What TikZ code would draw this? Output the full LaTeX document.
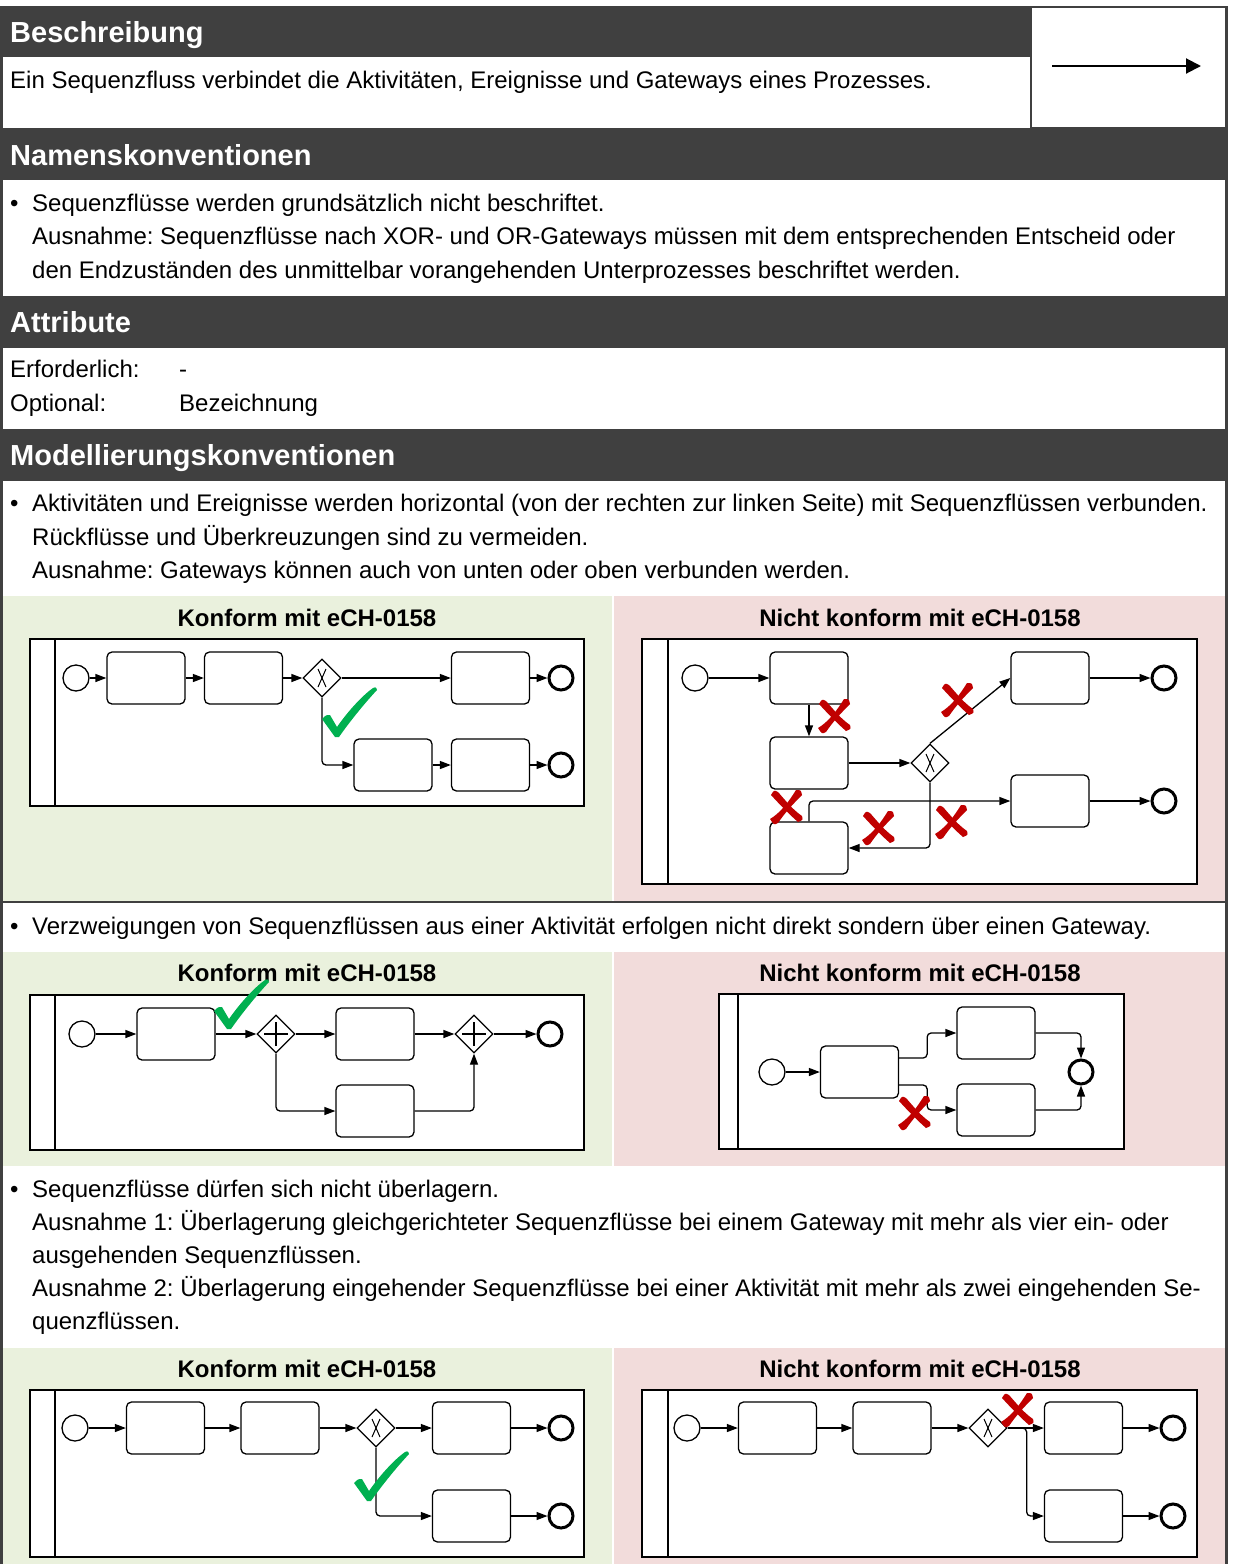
\documentclass[tikz,border=0pt]{standalone}
\usepackage{fontspec}
\setmainfont{Liberation Sans}
\usepackage{tikz}
\usetikzlibrary{arrows.meta,shapes.geometric}

\definecolor{barcol}{RGB}{64,64,64}
\definecolor{okfill}{HTML}{EAF1DD}
\definecolor{nofill}{HTML}{F2DCDB}
\definecolor{okgreen}{HTML}{00B050}
\definecolor{nored}{HTML}{C00000}
\frenchspacing

\begin{document}
\begin{tikzpicture}[x=1pt, y=-1pt,
    hdr/.style={anchor=base west, inner sep=0pt, text=white, font=\bfseries\fontsize{29}{34}\selectfont},
    txt/.style={anchor=base west, inner sep=0pt, font=\fontsize{24}{30}\selectfont},
    ttl/.style={anchor=base, inner sep=0pt, font=\bfseries\fontsize{24}{30}\selectfont},
    task/.style={draw, fill=white, rounded corners=5pt, minimum width=78pt, minimum height=52pt, inner sep=0pt, line width=1.3pt},
    startev/.style={draw, fill=white, circle, minimum size=26pt, inner sep=0pt, line width=1.3pt},
    endev/.style={draw, fill=white, circle, minimum size=24pt, inner sep=0pt, line width=3pt},
    gw/.style={draw, fill=white, diamond, minimum width=38pt, minimum height=38pt, inner sep=0pt, line width=1.3pt},
    xorgw/.style={gw, path picture={
        \draw[line width=1pt] ([shift={(-4pt,-9pt)}]path picture bounding box.center) -- ([shift={(4pt,9pt)}]path picture bounding box.center);
        \draw[line width=1pt] ([shift={(4pt,-9pt)}]path picture bounding box.center) -- ([shift={(-4pt,9pt)}]path picture bounding box.center);}},
    andgw/.style={gw, path picture={
        \draw[line width=2pt] ([xshift=-12pt]path picture bounding box.center) -- ([xshift=12pt]path picture bounding box.center);
        \draw[line width=2pt] ([yshift=-12pt]path picture bounding box.center) -- ([yshift=12pt]path picture bounding box.center);}},
    flow/.style={-{Triangle[length=11pt,width=8pt]}, line width=1.3pt, rounded corners=4pt},
    pool/.style={draw, fill=white, line width=1.5pt},
    okmark/.pic={\fill[okgreen] (-14,-17) .. controls (-10,-21) .. (-6,-21) -- (1,-9)
        .. controls (12,-25) and (27,-41) .. (37,-48) .. controls (40,-49) .. (41,-46)
        .. controls (27,-31) and (12,-12) .. (3,1) -- (-1,1) -- cycle;},
    nomark/.pic={\fill[nored] (-15,-12) .. controls (-12,-17) .. (-8,-15) .. controls (0,-6) and (6,2) .. (16,9)
        .. controls (17,13) .. (12,15) .. controls (4,8) and (-4,0) .. cycle;
        \fill[nored] (10,-17) .. controls (15,-17) .. (16,-12) .. controls (6,-2) and (-2,7) .. (-8,16)
        .. controls (-12,18) .. (-16,12) .. controls (-6,6) and (2,-4) .. cycle;}]
  \useasboundingbox (0,0) rectangle (1232,1564);
  \fill[white] (0,0) rectangle (1232,1564);

  \fill[barcol] (0,6) rectangle (1030,57);
  \node[hdr] (hBeschr) at (10,42) {Beschreibung};
  \node[txt] (tBeschr) at (10,88.5) {Ein Sequenzfluss verbindet die Aktivitäten, Ereignisse und Gateways eines Prozesses.};
  \draw[barcol, line width=2pt] (1030.5,7) rectangle (1226.5,128);
  \coordinate (symL) at (1052,66);
  \coordinate (symR) at (1201,66);
  \draw[line width=2pt, -{Triangle[length=15pt,width=15pt]}] (symL) -- (symR);

  \fill[barcol] (0,128) rectangle (1228,180);
  \node[hdr] (hNamen) at (10,165) {Namenskonventionen};
  \node[txt] (bulN) at (10,211.5) {\textbullet};
  \node[txt] (tN1) at (32,211.5) {Sequenzflüsse werden grundsätzlich nicht beschriftet.};
  \node[txt] (tN2) at (32,244.5) {Ausnahme: Sequenzflüsse nach XOR- und OR-Gateways müssen mit dem entsprechenden Entscheid oder};
  \node[txt] (tN3) at (32,278.5) {den Endzuständen des unmittelbar vorangehenden Unterprozesses beschriftet werden.};

  \fill[barcol] (0,296) rectangle (1228,348);
  \node[hdr] (hAttr) at (10,332) {Attribute};
  \node[txt] (tA1) at (10,377.5) {Erforderlich:};
  \node[txt] (vA1) at (179,377.5) {-};
  \node[txt] (tA2) at (10,411.5) {Optional:};
  \node[txt] (vA2) at (179,411.5) {Bezeichnung};

  \fill[barcol] (0,429) rectangle (1228,481);
  \node[hdr] (hModell) at (10,465) {Modellierungskonventionen};
  \node[txt] (bulM) at (10,511.5) {\textbullet};
  \node[txt] (tM1) at (32,511.5) {Aktivitäten und Ereignisse werden horizontal (von der rechten zur linken Seite) mit Sequenzflüssen verbunden.};
  \node[txt] (tM2) at (32,545.5) {Rückflüsse und Überkreuzungen sind zu vermeiden.};
  \node[txt] (tM3) at (32,578.5) {Ausnahme: Gateways können auch von unten oder oben verbunden werden.};

  \fill[okfill] (2,596) rectangle (611.5,900.5);
  \fill[nofill] (613.5,596) rectangle (1225,900.5);
  \node[ttl] (okT1) at (307,626.5) {Konform mit eCH-0158};
  \node[ttl] (noT1) at (920,626.5) {Nicht konform mit eCH-0158};
  \fill[barcol] (0,900.5) rectangle (1228,902.5);

  \draw[pool] (30,639) rectangle (584,806); \draw[line width=1.5pt] (55,639) -- (55,806);
  \node[startev] (aS) at (76,678) {};
  \node[task] (aT1) at (146,678) {};
  \node[task] (aT2) at (243.5,678) {};
  \node[xorgw] (aG) at (322,678) {};
  \node[task] (aT3) at (490.5,678) {};
  \node[endev] (aE1) at (561,678) {};
  \node[task] (aT4) at (393,765) {};
  \node[task] (aT5) at (490.5,765) {};
  \node[endev] (aE2) at (561,765) {};
  \draw[flow] (aS) -- (aT1); \draw[flow] (aT1) -- (aT2); \draw[flow] (aT2) -- (aG);
  \draw[flow] (aG) -- (aT3); \draw[flow] (aT3) -- (aE1); \draw[flow] (aG.south) |- (aT4);
  \draw[flow] (aT4) -- (aT5); \draw[flow] (aT5) -- (aE2);
  \pic at (336,736) {okmark};

  \draw[pool] (642,639) rectangle (1197,884); \draw[line width=1.5pt] (668,639) -- (668,884);
  \node[startev] (bS) at (695,678) {};
  \node[task] (bT1) at (809,678) {};
  \node[task] (bT2) at (809,763) {};
  \node[xorgw] (bG) at (930,763) {};
  \node[task] (bT3) at (1050,678) {};
  \node[endev] (bE1) at (1164,678) {};
  \node[task] (bT4) at (1050,801) {};
  \node[endev] (bE2) at (1164,801) {};
  \node[task] (bT5) at (809,848) {};
  \draw[flow] (bS) -- (bT1); \draw[flow] (bT1) -- (bT2); \draw[flow] (bT2) -- (bG);
  \draw[flow] (bG.north) -- (bT3.west); \draw[flow] (bT3) -- (bE1);
  \draw[flow] (bG.south) |- (bT5); \draw[flow] (bT5.north) |- (bT4); \draw[flow] (bT4) -- (bE2);
  \pic at (834,716) {nomark}; \pic at (957,700) {nomark}; \pic at (786,807) {nomark};
  \pic at (878,828) {nomark}; \pic at (951,822) {nomark};

  \node[txt] (bulV) at (10,934.5) {\textbullet};
  \node[txt] (tV1) at (32,934.5) {Verzweigungen von Sequenzflüssen aus einer Aktivität erfolgen nicht direkt sondern über einen Gateway.};

  \fill[okfill] (2,952) rectangle (611.5,1166);
  \fill[nofill] (613.5,952) rectangle (1225,1166);
  \node[ttl] (okT2) at (307,981.5) {Konform mit eCH-0158};
  \node[ttl] (noT2) at (920,981.5) {Nicht konform mit eCH-0158};

  \draw[pool] (30,995) rectangle (584,1150); \draw[line width=1.5pt] (55,995) -- (55,1150);
  \node[startev] (cS) at (82,1034) {};
  \node[task] (cT1) at (176,1034) {};
  \node[andgw] (cG1) at (276,1034) {};
  \node[task] (cT2) at (375,1034) {};
  \node[andgw] (cG2) at (474,1034) {};
  \node[endev] (cE) at (550,1034) {};
  \node[task] (cT3) at (375,1111) {};
  \draw[flow] (cS) -- (cT1); \draw[flow] (cT1) -- (cG1); \draw[flow] (cG1) -- (cT2);
  \draw[flow] (cT2) -- (cG2); \draw[flow] (cG2) -- (cE);
  \draw[flow] (cG1.south) |- (cT3); \draw[flow] (cT3) -| (cG2.south);
  \pic at (228,1028) {okmark};

  \draw[pool] (719,994) rectangle (1124,1149); \draw[line width=1.5pt] (738,994) -- (738,1149);
  \node[startev] (dS) at (772,1072) {};
  \node[task] (dT1) at (859.5,1072) {};
  \node[task] (dT2) at (996,1033) {};
  \node[task] (dT3) at (996,1110) {};
  \node[endev] (dE) at (1081,1072) {};
  \draw[flow] (dS) -- (dT1);
  \draw[flow] ([yshift=14pt]dT1.east) -- ++(28,0) |- (dT2);
  \draw[flow] ([yshift=-13pt]dT1.east) -- ++(28,0) |- (dT3);
  \draw[flow] (dT2) -| (dE); \draw[flow] (dT3) -| (dE);
  \pic at (914,1113) {nomark};

  \node[txt] (bulU) at (10,1197.5) {\textbullet};
  \node[txt] (tU1) at (32,1197.5) {Sequenzflüsse dürfen sich nicht überlagern.};
  \node[txt] (tU2) at (32,1230.5) {Ausnahme 1: Überlagerung gleichgerichteter Sequenzflüsse bei einem Gateway mit mehr als vier ein- oder};
  \node[txt] (tU3) at (32,1263.5) {ausgehenden Sequenzflüssen.};
  \node[txt] (tU4) at (32,1296.5) {Ausnahme 2: Überlagerung eingehender Sequenzflüsse bei einer Aktivität mit mehr als zwei eingehenden Se-};
  \node[txt] (tU5) at (32,1329.5) {quenzflüssen.};

  \fill[okfill] (2,1348) rectangle (611.5,1564);
  \fill[nofill] (613.5,1348) rectangle (1225,1564);
  \node[ttl] (okT3) at (307,1377.5) {Konform mit eCH-0158};
  \node[ttl] (noT3) at (920,1377.5) {Nicht konform mit eCH-0158};

  \draw[pool] (30,1390) rectangle (584,1557); \draw[line width=1.5pt] (55,1390) -- (55,1557);
  \node[startev] (eS) at (75,1428) {};
  \node[task] (eT1) at (165.5,1428) {};
  \node[task] (eT2) at (280,1428) {};
  \node[xorgw] (eG) at (376,1428) {};
  \node[task] (eT3) at (471.5,1428) {};
  \node[endev] (eE1) at (561,1428) {};
  \node[task] (eT4) at (471.5,1516) {};
  \node[endev] (eE2) at (561,1516) {};
  \draw[flow] (eS) -- (eT1); \draw[flow] (eT1) -- (eT2); \draw[flow] (eT2) -- (eG);
  \draw[flow] (eG) -- (eT3); \draw[flow] (eT3) -- (eE1); \draw[flow] (eG.south) |- (eT4);
  \draw[flow] (eT4) -- (eE2);
  \pic at (368,1500) {okmark};

  \draw[pool] (642,1390) rectangle (1197,1557); \draw[line width=1.5pt] (668,1390) -- (668,1557);
  \node[startev] (fS) at (687,1428) {};
  \node[task] (fT1) at (777.5,1428) {};
  \node[task] (fT2) at (892,1428) {};
  \node[xorgw] (fG) at (988,1428) {};
  \node[task] (fT3) at (1083.5,1428) {};
  \node[endev] (fE1) at (1173,1428) {};
  \node[task] (fT4) at (1083.5,1516) {};
  \node[endev] (fE2) at (1173,1516) {};
  \draw[flow] (fS) -- (fT1); \draw[flow] (fT1) -- (fT2); \draw[flow] (fT2) -- (fG);
  \draw[flow] (fG) -- (fT3); \draw[flow] (fT3) -- (fE1);
  \draw[flow] (fG.east) -- ++(19,0) |- (fT4); \draw[flow] (fT4) -- (fE2);
  \pic at (1017,1410) {nomark};

  \draw[barcol, line width=2.5pt] (1.25,6) -- (1.25,1564);
  \draw[barcol, line width=3pt] (1226.5,6) -- (1226.5,1564);
\end{tikzpicture}
\end{document}
